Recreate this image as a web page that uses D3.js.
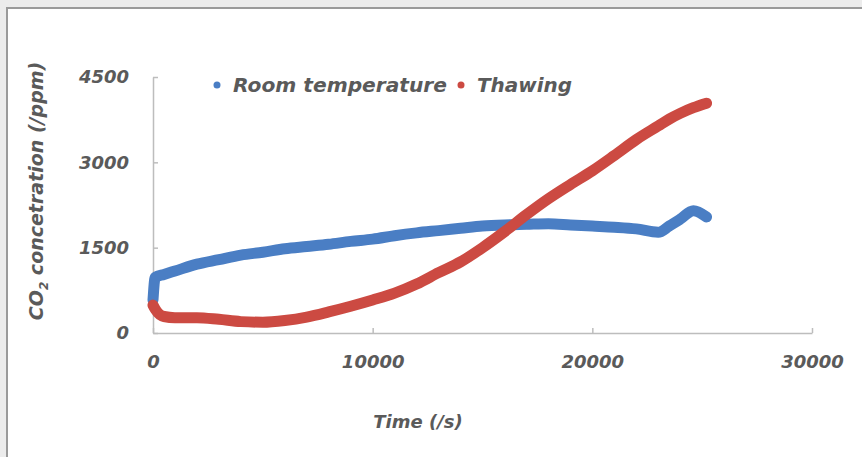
<!DOCTYPE html>
<html>
<head>
<meta charset="utf-8">
<script src="https://d3js.org/d3.v7.min.js"></script>
<style>
  body { margin: 0; background: #ececec; }
  svg { display: block; }
</style>
</head>
<body>
<svg id="chart" width="862" height="457"></svg>
<script>
// time (s)
var times = [0, 100, 500, 1000, 2000, 3000, 4000, 5000, 6000, 7000, 8000, 9000, 10000,
  11000, 12000, 13000, 14000, 15000, 16000, 17000, 18000, 19000, 20000, 21000, 22000,
  23000, 23500, 24000, 24600, 25200];
// CO2 (ppm)
var roomTemp = [580, 980, 1030, 1090, 1210, 1290, 1370, 1420, 1480, 1520, 1560, 1610, 1650,
  1710, 1760, 1800, 1840, 1880, 1900, 1910, 1920, 1900, 1880, 1860, 1830,
  1770, 1880, 2000, 2150, 2040];
var thawing = [490, 420, 290, 270, 270, 240, 200, 190, 220, 280, 370, 470, 580,
  700, 860, 1060, 1250, 1500, 1780, 2080, 2360, 2610, 2850, 3120, 3400,
  3640, 3760, 3860, 3960, 4040];
var seriesNames = ["Room temperature", "Thawing"];
var seriesColors = ["#4a7ec4", "#cc4a42"];
var xTicks = [0, 10000, 20000, 30000];
var yTicks = [0, 1500, 3000, 4500];

var svg = d3.select("#chart");

// white panel with grey border
svg.append("rect")
  .attr("x", 7).attr("y", 8)
  .attr("width", 870).attr("height", 470)
  .attr("fill", "#fff")
  .attr("stroke", "#9a9a9a")
  .attr("stroke-width", 2);

var x = d3.scaleLinear().domain([0, 30000]).range([153, 812]);
var y = d3.scaleLinear().domain([0, 4500]).range([333, 77]);

var font = "'DejaVu Sans', Verdana, sans-serif";
var labelColor = "#5a5a5a";

function styleText(sel, size) {
  sel.attr("fill", labelColor)
    .style("font-family", font)
    .style("font-size", size + "px")
    .style("font-weight", "bold")
    .style("font-style", "italic");
}

// axes
var xAxis = svg.append("g")
  .attr("transform", "translate(0," + y(0) + ")")
  .call(d3.axisBottom(x).tickValues(xTicks).tickFormat(d3.format("d"))
    .tickSizeInner(-5).tickSizeOuter(0).tickPadding(22));
var yAxis = svg.append("g")
  .attr("transform", "translate(" + x(0) + ",0)")
  .call(d3.axisLeft(y).tickValues(yTicks).tickFormat(d3.format("d"))
    .tickSizeInner(-5).tickSizeOuter(0).tickPadding(24));

[xAxis, yAxis].forEach(function(g) {
  g.select(".domain").attr("stroke", "#bdbdbd").attr("stroke-width", 1.5);
  g.selectAll(".tick line").attr("stroke", "#bdbdbd").attr("stroke-width", 1.5);
  styleText(g.selectAll(".tick text"), 18);
});

// lines
var line = d3.line()
  .x(function(d) { return x(d[0]); })
  .y(function(d) { return y(d[1]); })
  .curve(d3.curveMonotoneX);

[roomTemp, thawing].forEach(function(vals, i) {
  var pts = times.map(function(t, j) { return [t, vals[j]]; });
  svg.append("path")
    .datum(pts)
    .attr("d", line)
    .attr("fill", "none")
    .attr("stroke", seriesColors[i])
    .attr("stroke-width", 11)
    .attr("stroke-linecap", "round")
    .attr("stroke-linejoin", "round");
});

// legend
var legendX = [217, 461];
var legendW = [214, 95];
seriesNames.forEach(function(name, i) {
  svg.append("circle")
    .attr("cx", legendX[i]).attr("cy", 85).attr("r", 3.5)
    .attr("fill", seriesColors[i]);
  svg.append("text")
    .attr("x", legendX[i] + 16).attr("y", 92)
    .attr("textLength", legendW[i])
    .attr("lengthAdjust", "spacingAndGlyphs")
    .call(styleText, 19)
    .text(name);
});

// axis titles
svg.append("text")
  .attr("x", 418).attr("y", 428)
  .attr("text-anchor", "middle")
  .call(styleText, 18)
  .text("Time (/s)");

var yTitle = svg.append("text")
  .attr("transform", "translate(43,191) rotate(-90)")
  .attr("text-anchor", "middle")
  .call(styleText, 19);
yTitle.append("tspan").text("CO");
yTitle.append("tspan").attr("dy", 5).style("font-size", "12px").text("2");
yTitle.append("tspan").attr("dy", -5).text(" concetration (/ppm)");
</script>
</body>
</html>
